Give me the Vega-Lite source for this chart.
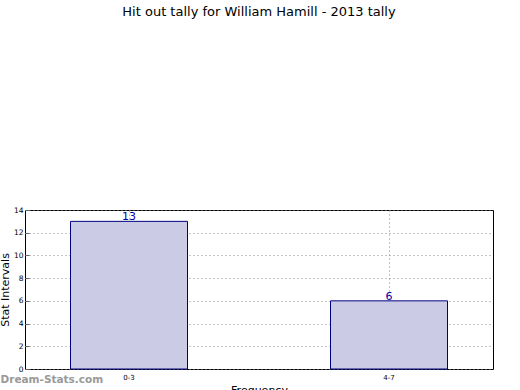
{
  "$schema": "https://vega.github.io/schema/vega-lite/v6.json",
  "width": 468,
  "height": 159,
  "autosize": "none",
  "padding": {"left": 25, "top": 210, "right": 27, "bottom": 21},
  "title": {"text": "Hit out tally for William Hamill - 2013 tally", "offset": 187, "fontSize": 13, "font": "DejaVu Sans", "fontWeight": "normal", "anchor": "middle", "color": "black"},
  "config": {"view": {"stroke": "black", "strokeWidth": 1}, "font": "DejaVu Sans"},
  "layer": [
    {
      "data": {"values": [{"interval": "0-3", "count": 13}, {"interval": "4-7", "count": 6}]},
      "encoding": {
        "x": {"field": "interval", "type": "nominal", "sort": null,
          "scale": {"paddingInner": 0.55, "paddingOuter": 0.175},
          "axis": {"title": "Frequency", "titleFont": "DejaVu Sans", "titleFontSize": 11, "titleFontWeight": "normal", "titleColor": "black", "titlePadding": 4,
            "labelAngle": 0, "labelFontSize": 7, "labelColor": "black", "labelPadding": 4, "bandPosition": 0.5,
            "domain": false, "ticks": false, "grid": true, "gridDash": [1, 3], "gridColor": "#888", "gridOpacity": 1}},
        "y": {"field": "count", "type": "quantitative", "scale": {"domain": [0, 14], "nice": false},
          "axis": {"title": "Stat Intervals", "titleFont": "DejaVu Sans", "titleFontSize": 11, "titleFontWeight": "normal", "titleColor": "black",
            "titleX": -20, "titleY": 79.5, "titleBaseline": "middle", "titleAlign": "center", "titleAngle": -90,
            "values": [0, 2, 4, 6, 8, 10, 12, 14], "tickCount": 8, "labelFontSize": 7.5, "labelColor": "black", "labelPadding": 6, "labelOverlap": false, "labelFlush": false,
            "domain": false, "tickSize": -4, "tickColor": "#666", "grid": true, "gridDash": [1, 3], "gridColor": "#888", "gridOpacity": 1}}
      },
      "layer": [
        {"mark": {"type": "bar", "fill": "#cbcbe5", "stroke": "#000080", "strokeWidth": 1}},
        {"mark": {"type": "text", "baseline": "bottom", "color": "#0000aa", "fontSize": 11, "dy": 1},
         "encoding": {"text": {"field": "count"}}}
      ]
    },
    {
      "data": {"values": [{"label": "Dream-Stats.com"}]},
      "mark": {"type": "text", "align": "left", "baseline": "middle", "color": "#999999", "fontSize": 10.5, "fontWeight": "bold", "dx": -70, "dy": 11},
      "encoding": {
        "x": {"datum": "0-3", "type": "nominal", "bandPosition": 0},
        "y": {"datum": 0, "type": "quantitative"},
        "text": {"field": "label"}
      }
    }
  ]
}
